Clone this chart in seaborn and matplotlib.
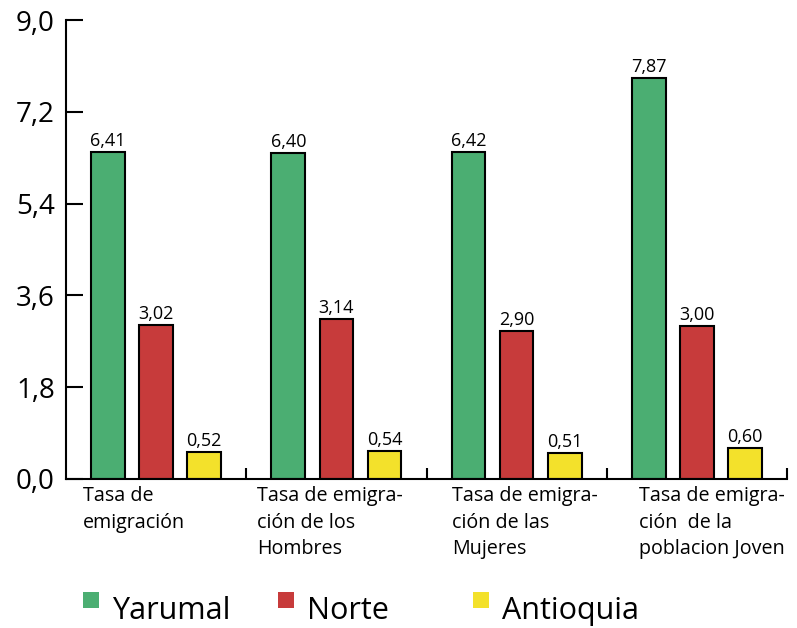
import pandas as pd
import matplotlib.pyplot as plt
import matplotlib.transforms as mtransforms
from matplotlib.patches import Rectangle
import seaborn as sns

# ===============================
# DATA
# ===============================
categorias = [
    "Tasa de\nemigración",
    "Tasa de emigra-\nción de los\nHombres",
    "Tasa de emigra-\nción de las\nMujeres",
    "Tasa de emigra-\nción  de la\npoblacion Joven",
]
regiones = ["Yarumal", "Norte", "Antioquia"]
yarumal = [6.41, 6.40, 6.42, 7.87]
norte = [3.02, 3.14, 2.90, 3.00]
antioquia = [0.52, 0.54, 0.51, 0.60]
y_ticks = [0.0, 1.8, 3.6, 5.4, 7.2, 9.0]

colores = {"Yarumal": "#4bae72", "Norte": "#c73b3b", "Antioquia": "#f3e12b"}

df = pd.DataFrame({
    "categoria": categorias * 3,
    "region": [r for r in regiones for _ in categorias],
    "valor": yarumal + norte + antioquia,
})

# ===============================
# PLOT
# ===============================
sns.set_style("white")
plt.rcParams["font.family"] = ["Open Sans", "DejaVu Sans"]
plt.rcParams["text.color"] = "black"
plt.rcParams["ytick.color"] = "black"
plt.rcParams["xtick.color"] = "black"

fig = plt.figure(figsize=(7.97, 6.28), dpi=100)
ax = fig.add_axes([0.0828, 0.2373, 0.9047, 0.7307])

sns.barplot(data=df, x="categoria", y="valor", hue="region", hue_order=regiones,
            palette=colores, saturation=1, width=0.8, gap=0.3,
            edgecolor="black", linewidth=1.5, legend=False, ax=ax)

for cont in ax.containers:
    vals = [b.get_height() for b in cont]
    ax.bar_label(cont, labels=[f"{v:.2f}".replace(".", ",") for v in vals],
                 padding=1.5, fontsize=13)

ax.set_xlim(-0.5, 3.5)
ax.set_ylim(0, 9)
ax.set_yticks(y_ticks)
ax.set_yticklabels([f"{t:.1f}".replace(".", ",") for t in y_ticks], fontsize=20)
ax.set_xticks([0.5, 1.5, 2.5, 3.5])
ax.set_xticklabels([])
ax.tick_params(axis="y", direction="in", length=12, width=1.5, pad=8, left=True)
ax.tick_params(axis="x", direction="in", length=8, width=1.5, bottom=True)
ax.set_xlabel("")
ax.set_ylabel("")
for s in ["top", "right"]:
    ax.spines[s].set_visible(False)
for s in ["left", "bottom"]:
    ax.spines[s].set_linewidth(1.5)
    ax.spines[s].set_color("black")

# category labels, left aligned under each group
trans = mtransforms.blended_transform_factory(ax.transData, ax.transAxes)
label_x = [-0.406, 0.561, 1.644, 2.678]
for x, txt in zip(label_x, categorias):
    ax.text(x, -0.016, txt, transform=trans, ha="left", va="top",
            fontsize=14.2, linespacing=1.42)

# legend with evenly spaced entries
for i, r in enumerate(regiones):
    x0 = (83 + 195 * i) / 797
    fig.patches.append(Rectangle((x0, 20 / 628), 16 / 797, 16 / 628,
                                 transform=fig.transFigure, facecolor=colores[r],
                                 edgecolor="none"))
    fig.text(x0 + 29 / 797, 9 / 628, r, fontsize=22, va="baseline", ha="left")

fig.savefig("out.png", dpi=100)
